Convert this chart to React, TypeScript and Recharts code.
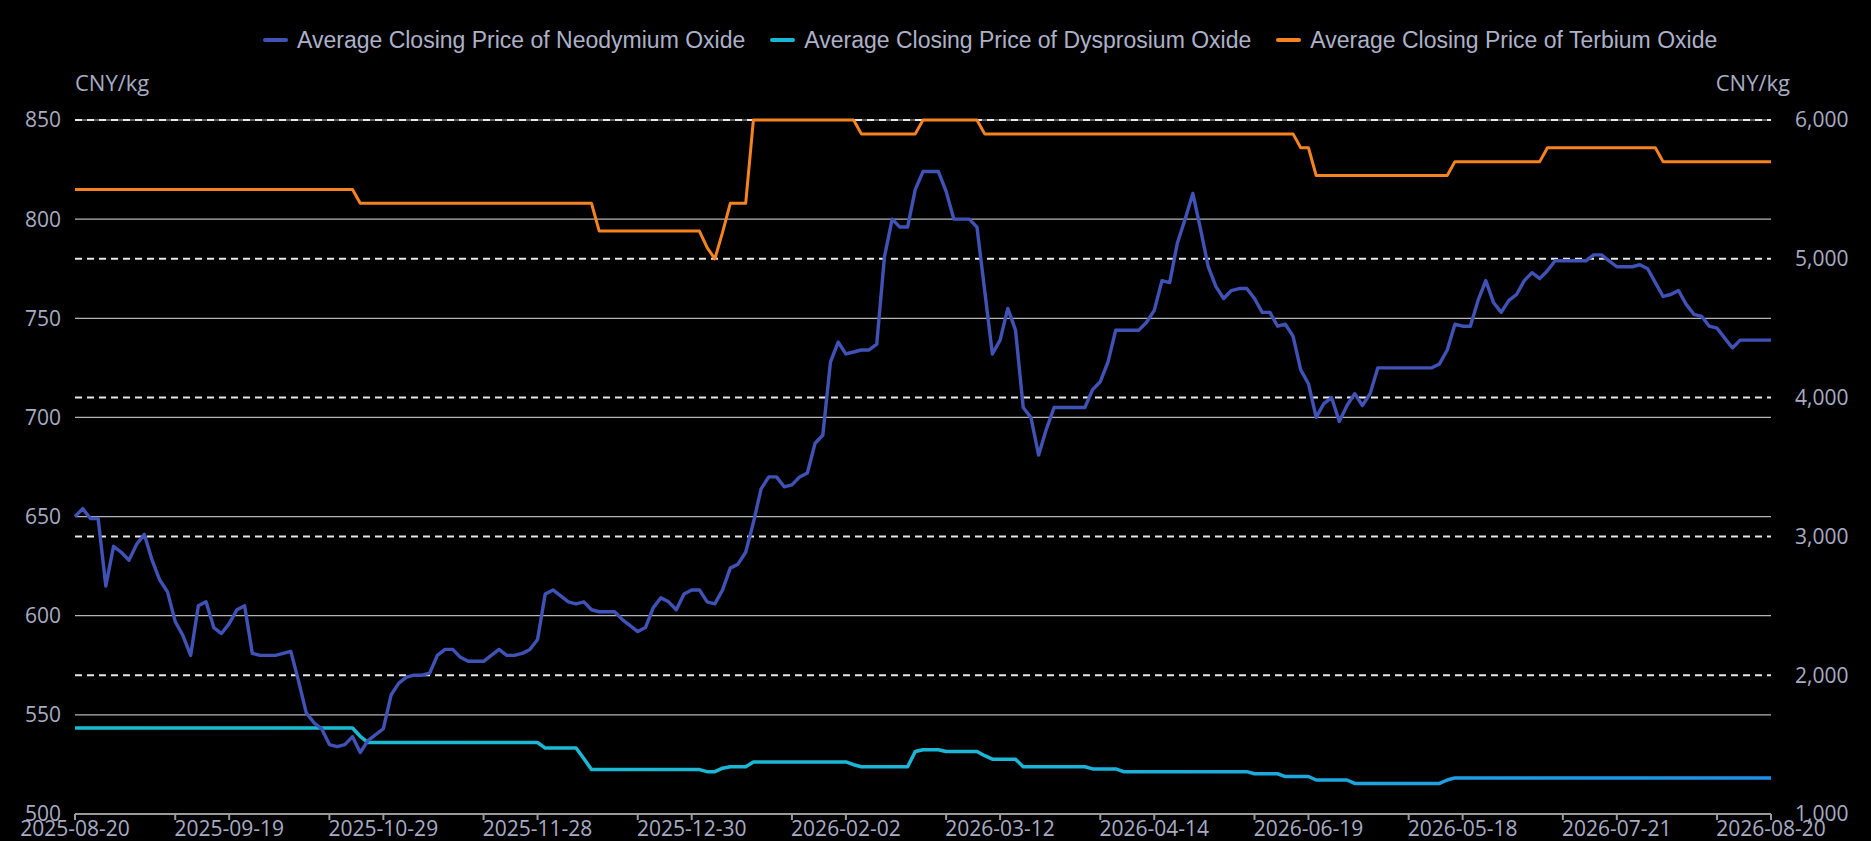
import { CartesianGrid, Line, LineChart, XAxis, YAxis } from "recharts";

// dates printed under the axis, one every STEP points
const TICK_LABELS = [
  "2025-08-20", "2025-09-19", "2025-10-29", "2025-11-28", "2025-12-30", "2026-02-02",
  "2026-03-12", "2026-04-14", "2026-06-19", "2026-05-18", "2026-07-21", "2026-08-20",
];

// CNY/kg, left axis
const NEODYMIUM = [
  650, 654, 649, 649, 615, 635, 632, 628, 636, 641, 628, 618, 612, 597, 590, 580, 605, 607, 594, 591,
  596, 603, 605, 581, 580, 580, 580, 581, 582, 567, 551, 546, 543, 535, 534, 535, 539, 531, 537, 540,
  543, 560, 566, 569, 570, 570, 571, 580, 583, 583, 579, 577, 577, 577, 580, 583, 580, 580, 581, 583,
  588, 611, 613, 610, 607, 606, 607, 603, 602, 602, 602, 598, 595, 592, 594, 604, 609, 607, 603, 611,
  613, 613, 607, 606, 613, 624, 626, 632, 647, 664, 670, 670, 665, 666, 670, 672, 687, 691, 728, 738,
  732, 733, 734, 734, 737, 781, 800, 796, 796, 815, 824, 824, 824, 814, 800, 800, 800, 796, 764, 732,
  739, 755, 744, 705, 700, 681, 694, 705, 705, 705, 705, 705, 714, 718, 728, 744, 744, 744, 744, 748,
  754, 769, 768, 788, 800, 813, 795, 776, 766, 760, 764, 765, 765, 760, 753, 753, 746, 747, 741, 724,
  717, 700, 707, 710, 698, 706, 712, 706, 712, 725, 725, 725, 725, 725, 725, 725, 725, 727, 734, 747,
  746, 746, 759, 769, 758, 753, 759, 762, 769, 773, 770, 774, 779, 779, 779, 779, 779, 782, 782, 779,
  776, 776, 776, 777, 775, 768, 761, 762, 764, 757, 752, 751, 746, 745, 740, 735, 739, 739, 739, 739, 739,
];

// CNY/kg, right axis
const DYSPROSIUM = [
  1620, 1620, 1620, 1620, 1620, 1620, 1620, 1620, 1620, 1620, 1620, 1620, 1620, 1620, 1620, 1620, 1620, 1620, 1620, 1620,
  1620, 1620, 1620, 1620, 1620, 1620, 1620, 1620, 1620, 1620, 1620, 1620, 1620, 1620, 1620, 1620, 1620, 1560, 1515, 1515,
  1515, 1515, 1515, 1515, 1515, 1515, 1515, 1515, 1515, 1515, 1515, 1515, 1515, 1515, 1515, 1515, 1515, 1515, 1515, 1515,
  1515, 1475, 1475, 1475, 1475, 1475, 1400, 1320, 1320, 1320, 1320, 1320, 1320, 1320, 1320, 1320, 1320, 1320, 1320, 1320,
  1320, 1320, 1305, 1305, 1330, 1340, 1340, 1340, 1375, 1375, 1375, 1375, 1375, 1375, 1375, 1375, 1375, 1375, 1375, 1375,
  1375, 1355, 1340, 1340, 1340, 1340, 1340, 1340, 1340, 1450, 1463, 1463, 1463, 1450, 1450, 1450, 1450, 1450, 1420, 1395,
  1395, 1395, 1395, 1340, 1340, 1340, 1340, 1340, 1340, 1340, 1340, 1340, 1325, 1325, 1325, 1325, 1305, 1305, 1305, 1305,
  1305, 1305, 1305, 1305, 1305, 1305, 1305, 1305, 1305, 1305, 1305, 1305, 1305, 1290, 1290, 1290, 1290, 1270, 1270, 1270,
  1270, 1245, 1245, 1245, 1245, 1245, 1220, 1220, 1220, 1220, 1220, 1220, 1220, 1220, 1220, 1220, 1220, 1220, 1245, 1260,
  1260, 1260, 1260, 1260, 1260, 1260, 1260, 1260, 1260, 1260, 1260, 1260, 1260, 1260, 1260, 1260, 1260, 1260, 1260, 1260,
  1260, 1260, 1260, 1260, 1260, 1260, 1260, 1260, 1260, 1260, 1260, 1260, 1260, 1260, 1260, 1260, 1260, 1260, 1260, 1260, 1260,
];

// CNY/kg, right axis
const TERBIUM = [
  5500, 5500, 5500, 5500, 5500, 5500, 5500, 5500, 5500, 5500, 5500, 5500, 5500, 5500, 5500, 5500, 5500, 5500, 5500, 5500,
  5500, 5500, 5500, 5500, 5500, 5500, 5500, 5500, 5500, 5500, 5500, 5500, 5500, 5500, 5500, 5500, 5500, 5400, 5400, 5400,
  5400, 5400, 5400, 5400, 5400, 5400, 5400, 5400, 5400, 5400, 5400, 5400, 5400, 5400, 5400, 5400, 5400, 5400, 5400, 5400,
  5400, 5400, 5400, 5400, 5400, 5400, 5400, 5400, 5200, 5200, 5200, 5200, 5200, 5200, 5200, 5200, 5200, 5200, 5200, 5200,
  5200, 5200, 5080, 5000, 5190, 5400, 5400, 5400, 6000, 6000, 6000, 6000, 6000, 6000, 6000, 6000, 6000, 6000, 6000, 6000,
  6000, 6000, 5900, 5900, 5900, 5900, 5900, 5900, 5900, 5900, 6000, 6000, 6000, 6000, 6000, 6000, 6000, 6000, 5900, 5900,
  5900, 5900, 5900, 5900, 5900, 5900, 5900, 5900, 5900, 5900, 5900, 5900, 5900, 5900, 5900, 5900, 5900, 5900, 5900, 5900,
  5900, 5900, 5900, 5900, 5900, 5900, 5900, 5900, 5900, 5900, 5900, 5900, 5900, 5900, 5900, 5900, 5900, 5900, 5900, 5800,
  5800, 5600, 5600, 5600, 5600, 5600, 5600, 5600, 5600, 5600, 5600, 5600, 5600, 5600, 5600, 5600, 5600, 5600, 5600, 5700,
  5700, 5700, 5700, 5700, 5700, 5700, 5700, 5700, 5700, 5700, 5700, 5800, 5800, 5800, 5800, 5800, 5800, 5800, 5800, 5800,
  5800, 5800, 5800, 5800, 5800, 5800, 5700, 5700, 5700, 5700, 5700, 5700, 5700, 5700, 5700, 5700, 5700, 5700, 5700, 5700, 5700,
];

const LEFT_TICKS = [500, 550, 600, 650, 700, 750, 800, 850];
const RIGHT_TICKS = [1000, 2000, 3000, 4000, 5000, 6000];

const SERIES = [
  { key: "nd", name: "Average Closing Price of Neodymium Oxide", color: "#4052b5" },
  { key: "dy", name: "Average Closing Price of Dysprosium Oxide", color: "#1ab6d4" },
  { key: "tb", name: "Average Closing Price of Terbium Oxide", color: "#f5831f" },
];

const STEP = 20;
const MINOR = 13; // the small unlabelled tick before each date

const data = NEODYMIUM.map((nd, i) => ({ i, nd, dy: DYSPROSIUM[i], tb: TERBIUM[i] }));
const xTicks = TICK_LABELS.flatMap((_, k) =>
  k < TICK_LABELS.length - 1 ? [k * STEP, k * STEP + MINOR] : [k * STEP],
);

const W = 1871;
const H = 841;
const TEXT = "#a7acc3";
const TICK_FONT = { fill: TEXT, fontSize: 21, fontFamily: "Open Sans, sans-serif" };

const unitStyle = {
  fontFamily: "Open Sans, sans-serif",
  fontSize: 22,
  lineHeight: "30px",
  color: TEXT,
};

export default function App() {
  return (
    <div style={{ position: "relative", width: W, height: H, background: "#000" }}>
      <style>{"body{margin:0;background:#000}"}</style>

      <div
        style={{
          position: "absolute",
          left: 263,
          top: 26,
          height: 28,
          display: "flex",
          alignItems: "center",
          fontFamily: "Liberation Sans, Arial, sans-serif",
          fontSize: 23,
          color: "#adb1c7",
          whiteSpace: "nowrap",
        }}
      >
        {SERIES.map((s) => (
          <div key={s.key} style={{ display: "flex", alignItems: "center", marginRight: 25 }}>
            <span style={{ width: 25, height: 4, borderRadius: 2, background: s.color, marginRight: 9 }} />
            {s.name}
          </div>
        ))}
      </div>

      <div style={{ position: "absolute", left: 75, top: 67, ...unitStyle }}>CNY/kg</div>
      <div style={{ position: "absolute", right: W - 1790, top: 67, ...unitStyle }}>CNY/kg</div>

      <LineChart width={W} height={H} data={data} margin={{ top: 120, right: 0, bottom: 0, left: 0 }}>
        <defs>
          <linearGradient id="dyStroke" x1="0" y1="0" x2="1" y2="0">
            <stop offset="0%" stopColor="#19bccf" />
            <stop offset="55%" stopColor="#1bb6d8" />
            <stop offset="100%" stopColor="#1f8fea" />
          </linearGradient>
        </defs>
        <CartesianGrid yAxisId="left" vertical={false} stroke="#b4b4b4" strokeWidth={1.2} />
        <CartesianGrid yAxisId="right" vertical={false} stroke="#e8e8e8" strokeWidth={2} strokeDasharray="7 5" />
        <XAxis
          dataKey="i"
          type="number"
          domain={[0, NEODYMIUM.length - 1]}
          ticks={xTicks}
          interval={0}
          tickFormatter={(v: number) => (v % STEP === 0 ? TICK_LABELS[v / STEP] : "")}
          height={27}
          tickSize={6}
          tickMargin={1}
          stroke="#9a9a9a"
          strokeWidth={2}
          tick={TICK_FONT}
        />
        <YAxis
          yAxisId="left"
          domain={[500, 850]}
          ticks={LEFT_TICKS}
          width={75}
          axisLine={false}
          tickLine={false}
          tickSize={0}
          tickMargin={14}
          tick={TICK_FONT}
        />
        <YAxis
          yAxisId="right"
          orientation="right"
          domain={[1000, 6000]}
          ticks={RIGHT_TICKS}
          width={100}
          axisLine={false}
          tickLine={false}
          tickSize={0}
          tickMargin={24}
          tick={TICK_FONT}
          tickFormatter={(v: number) => v.toLocaleString("en-US")}
        />
        <Line
          yAxisId="right"
          dataKey="dy"
          stroke="url(#dyStroke)"
          strokeWidth={3.5}
          dot={false}
          strokeLinejoin="round"
          isAnimationActive={false}
        />
        <Line
          yAxisId="right"
          dataKey="tb"
          stroke="#f5831f"
          strokeWidth={3}
          dot={false}
          strokeLinejoin="round"
          isAnimationActive={false}
        />
        <Line
          yAxisId="left"
          dataKey="nd"
          stroke="#4052b5"
          strokeWidth={3.4}
          dot={false}
          strokeLinejoin="round"
          isAnimationActive={false}
        />
      </LineChart>
    </div>
  );
}
